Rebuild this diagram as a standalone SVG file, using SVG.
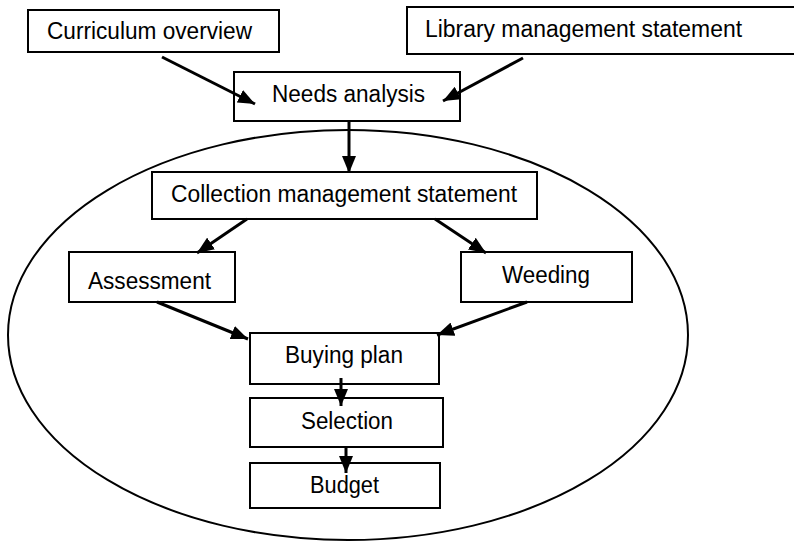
<svg xmlns="http://www.w3.org/2000/svg" width="794" height="545" viewBox="0 0 794 545">
<style>
.box{fill:#fff;stroke:#000;stroke-width:2}
.t{font-family:"Liberation Sans",Arial,sans-serif;font-size:23.5px;fill:#000}
.c{stroke:#000;stroke-width:3;fill:none}
</style>
<defs>
<marker id="ah" markerUnits="userSpaceOnUse" markerWidth="18" markerHeight="14" refX="17" refY="7" orient="auto">
<path d="M0,0 L17,7 L0,14 Z" fill="#000"/>
</marker>
</defs>
<rect width="794" height="545" fill="#fff"/>
<ellipse cx="348" cy="335" rx="340" ry="205" fill="none" stroke="#000" stroke-width="2"/>
<g id="curriculum"><rect class="box" x="28" y="10" width="251" height="42"/><text class="t" x="47" y="39" textLength="205" lengthAdjust="spacingAndGlyphs">Curriculum overview</text></g>
<g id="library"><rect class="box" x="407" y="7" width="390" height="47"/><text class="t" x="425" y="37" textLength="317" lengthAdjust="spacingAndGlyphs">Library management statement</text></g>
<g id="needs"><rect class="box" x="234" y="72" width="226" height="49"/><text class="t" x="272" y="102" textLength="153" lengthAdjust="spacingAndGlyphs">Needs analysis</text></g>
<g id="collection"><rect class="box" x="152" y="172" width="385" height="47"/><text class="t" x="171" y="202" textLength="346" lengthAdjust="spacingAndGlyphs">Collection management statement</text></g>
<g id="assessment"><rect class="box" x="69" y="252" width="166" height="50"/><text class="t" x="88" y="289" textLength="123" lengthAdjust="spacingAndGlyphs">Assessment</text></g>
<g id="weeding"><rect class="box" x="461" y="252" width="171" height="50"/><text class="t" x="502" y="283" textLength="88" lengthAdjust="spacingAndGlyphs">Weeding</text></g>
<g id="buying"><rect class="box" x="250" y="333" width="189" height="51"/><text class="t" x="285" y="363" textLength="118" lengthAdjust="spacingAndGlyphs">Buying plan</text></g>
<g id="selection"><rect class="box" x="250" y="398" width="193" height="49"/><text class="t" x="301" y="429" textLength="92" lengthAdjust="spacingAndGlyphs">Selection</text></g>
<g id="budget"><rect class="box" x="250" y="463" width="190" height="45"/><text class="t" x="310" y="493" textLength="69" lengthAdjust="spacingAndGlyphs">Budget</text></g>
<g id="connectors">
<line class="c" x1="162" y1="57" x2="255" y2="104" marker-end="url(#ah)"/>
<line class="c" x1="523" y1="58" x2="443" y2="101" marker-end="url(#ah)"/>
<line class="c" x1="349" y1="121" x2="349" y2="173" stroke-width="4.5" marker-end="url(#ah)"/>
<line class="c" x1="247" y1="219" x2="197" y2="253" marker-end="url(#ah)"/>
<line class="c" x1="435" y1="219" x2="486" y2="253" marker-end="url(#ah)"/>
<line class="c" x1="157" y1="302" x2="248" y2="339" marker-end="url(#ah)"/>
<line class="c" x1="527" y1="302" x2="437" y2="335" marker-end="url(#ah)"/>
<line class="c" x1="341" y1="378" x2="341" y2="406" marker-end="url(#ah)"/>
<line class="c" x1="346" y1="447" x2="346" y2="473" marker-end="url(#ah)"/>
</g>
</svg>
